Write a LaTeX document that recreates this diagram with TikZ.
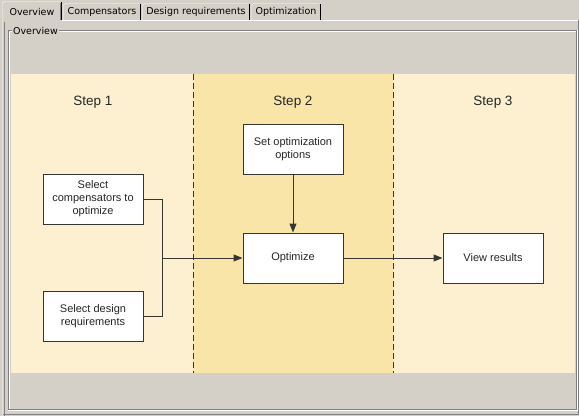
\documentclass[tikz,border=0pt]{standalone}
\usepackage{fontspec}
\setmainfont{Liberation Sans}
\newfontfamily\guifont{DejaVu Sans}
\usepackage{tikz}
\usetikzlibrary{arrows.meta,positioning}
\usepackage{xcolor}
\definecolor{guigray}{RGB}{212,208,200}
\definecolor{guidark}{RGB}{128,128,128}
\definecolor{stepcream}{RGB}{253,240,209}
\definecolor{stepgold}{RGB}{250,229,168}
\definecolor{boxline}{RGB}{55,55,50}

\begin{document}
\begin{tikzpicture}[
    x=1pt, y=-1pt,
    box/.style={draw=boxline, line width=1pt, fill=white, minimum width=100pt, minimum height=50pt, inner sep=2pt, align=center, font=\fontsize{11}{13}\selectfont, text=black!85},
    steplabel/.style={font=\fontsize{13.5}{16}\selectfont, text=black!85},
    tab/.style={font=\guifont\fontsize{9.5}{11}\selectfont, inner sep=0pt},
    arrow/.style={-{Triangle[length=9pt,width=7pt]}, line width=1pt, draw=boxline},
    link/.style={line width=1pt, draw=boxline},
    sep/.style={dash pattern=on 6pt off 3pt, line width=1pt, draw=boxline}
]
    \useasboundingbox (0,0) rectangle (579,416);
    \fill[guigray] (0,0) rectangle (579,416);

    % tab strip
    \draw[white] (62,20.5) -- (579,20.5);
    \draw[white] (2.5,416) -- (2.5,3) -- (4.5,1.5) -- (60,1.5);
    \draw[black] (61.5,2) -- (61.5,20);
    \draw[guidark] (60.5,3) -- (60.5,20);
    \draw[guidark] (4.5,22) -- (4.5,416);
    \foreach \xa/\xb in {63/141, 142/250, 251/321} {
        \draw[white] (\xa+0.5,20) -- (\xa+0.5,5) -- (\xa+2.5,3.5) -- (\xb-2,3.5);
        \draw[black] (\xb-0.5,4) -- (\xb-0.5,20);
    }
    \node[tab] (tab1) at (32,11.5) {Overview};
    \node[tab] (tab2) at (102,12) {Compensators};
    \node[tab] (tab3) at (196,12) {Design requirements};
    \node[tab] (tab4) at (286,12) {Optimization};

    % panel and group box
    \draw[guidark] (578.5,20) -- (578.5,414.5) -- (3,414.5);
    \draw[guidark] (8.5,30.5) rectangle (576.5,409.5);
    \draw[white] (9.5,31.5) -- (9.5,408.5);
    \draw[white] (9.5,31.5) -- (575.5,31.5);
    \draw[white] (8,410.5) -- (577.5,410.5) -- (577.5,30);
    \node[tab, fill=guigray, inner xsep=1pt] (legend) at (35.5,30.5) {Overview};

    % steps
    \fill[stepcream] (11,74) rectangle (575,373);
    \fill[stepgold] (193,74) rectangle (393,373);
    \draw[sep] (193,74) -- (193,373);
    \draw[sep] (393,74) -- (393,373);
    \node[steplabel] (st1) at (93,102) {Step 1};
    \node[steplabel] (st2) at (293,102) {Step 2};
    \node[steplabel] (st3) at (493,102) {Step 3};

    \node[box] (comp) at (93,199) {Select\\compensators to\\optimize};
    \node[box] (req) at (93,316) {Select design\\requirements};
    \node[box] (opts) at (293,149) {Set optimization\\options};
    \node[box] (optim) at (293,258) {Optimize};
    \node[box] (view) at (493,258) {View results};
    \coordinate (join) at (162,258);

    \draw[link] (comp.east) -| (join);
    \draw[link] (req.east) -| (join);
    \draw[arrow] (join) -- (optim.west);
    \draw[arrow] (opts) -- (optim);
    \draw[arrow] (optim) -- (view);
\end{tikzpicture}
\end{document}
